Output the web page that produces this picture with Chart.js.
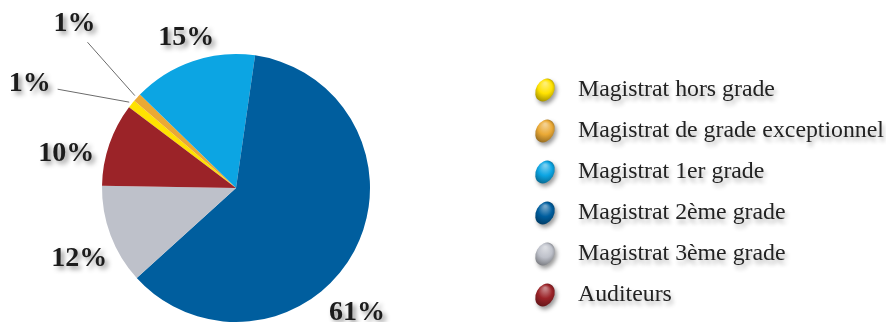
<!DOCTYPE html>
<html>
<head>
<meta charset="utf-8">
<script src="https://cdn.jsdelivr.net/npm/chart.js@4.4.1/dist/chart.umd.min.js"></script>
<style>
  html, body { margin: 0; padding: 0; background: #fff; overflow: hidden; }
  #wrap { position: relative; width: 886px; height: 340px; }
</style>
</head>
<body>
<div id="wrap"><canvas id="grades"></canvas></div>
<script>
const gradeLabels = ['Magistrat hors grade', 'Magistrat de grade exceptionnel', 'Magistrat 1er grade',
  'Magistrat 2ème grade', 'Magistrat 3ème grade', 'Auditeurs']
const gradeShares = [1, 1, 15, 61, 12, 10]
const gradeColors = ['#ffe200', '#eaa935', '#0ca5e3', '#005e9e', '#bec1ca', '#9b2328']

// percentage label spots: angle from top (deg, clockwise) and distance from the centre
const labelSpots = [
  {angle: 296.7, dist: 231, leader: [28, 5]},
  {angle: 315.4, dist: 230, leader: [13, 18]},
  {angle: 341.6, dist: 158},
  {angle: 135.9, dist: 174},
  {angle: 245.7, dist: 172},
  {angle: 281.3, dist: 173}
]

const mix = (hex, target, t) => {
  let c = [1, 3, 5].map(i => parseInt(hex.substr(i, 2), 16))
  c = c.map(v => Math.round(v + (target - v) * t))
  return `rgb(${c[0]},${c[1]},${c[2]})`
}

const pointAt = (cx, cy, angle, dist) => {
  let t = (angle - 90) * Math.PI / 180
  return [cx + dist * Math.cos(t), cy + dist * Math.sin(t)]
}

// percent labels + leader lines
const pctLabels = {
  id: 'pctLabels',
  afterDatasetsDraw(chart) {
    let ctx = chart.ctx
    let arcs = chart.getDatasetMeta(0).data
    let {x: cx, y: cy, outerRadius} = arcs[0].getProps(['x', 'y', 'outerRadius'], true)
    let total = gradeShares.reduce((a, b) => a + b, 0)
    ctx.save()
    labelSpots.forEach((spot, i) => {
      let [lx, ly] = pointAt(cx, cy, spot.angle, spot.dist)
      if (spot.leader) {
        let {startAngle, endAngle} = arcs[i].getProps(['startAngle', 'endAngle'], true)
        let mid = (startAngle + endAngle) / 2
        ctx.strokeStyle = '#6b6b6b'
        ctx.lineWidth = 1
        ctx.beginPath()
        ctx.moveTo(lx + spot.leader[0], ly + spot.leader[1])
        ctx.lineTo(cx + (outerRadius + 3) * Math.cos(mid), cy + (outerRadius + 3) * Math.sin(mid))
        ctx.stroke()
      }
      ctx.shadowColor = 'rgba(0,0,0,0.45)'
      ctx.shadowBlur = 5
      ctx.shadowOffsetX = 3
      ctx.shadowOffsetY = 3
      ctx.fillStyle = '#1c1c1c'
      ctx.font = 'bold 28px "Liberation Serif", serif'
      ctx.textAlign = 'center'
      ctx.textBaseline = 'middle'
      ctx.fillText(Math.round(gradeShares[i] / total * 100) + '%', lx, ly)
      ctx.shadowColor = 'transparent'
    })
    ctx.restore()
  }
}

// legend with glossy bean markers on the right
const beanLegend = {
  id: 'beanLegend',
  afterDraw(chart) {
    let ctx = chart.ctx
    let colors = chart.data.datasets[0].backgroundColor
    ctx.save()
    ctx.font = '20px "Liberation Serif", serif'
    let widest = Math.max(...chart.data.labels.map(l => ctx.measureText(l).width))
    let size = 20 * 306 / widest
    chart.data.labels.forEach((label, i) => {
      let y = 90 + i * 41
      // marker
      ctx.save()
      ctx.translate(545, y)
      ctx.rotate(0.5)
      let g = ctx.createRadialGradient(-3, -6, 1, 0, 0, 13)
      g.addColorStop(0, mix(colors[i], 255, 0.45))
      g.addColorStop(0.5, colors[i])
      g.addColorStop(1, mix(colors[i], 0, 0.4))
      ctx.shadowColor = 'rgba(0,0,0,0.4)'
      ctx.shadowBlur = 4
      ctx.shadowOffsetX = 2
      ctx.shadowOffsetY = 3
      ctx.fillStyle = g
      ctx.beginPath()
      ctx.ellipse(0, 0, 9, 12, 0, 0, Math.PI * 2)
      ctx.fill()
      ctx.restore()
      // text
      ctx.shadowColor = 'rgba(0,0,0,0.3)'
      ctx.shadowBlur = 4
      ctx.shadowOffsetX = 2
      ctx.shadowOffsetY = 4
      ctx.fillStyle = '#222'
      ctx.font = size.toFixed(1) + 'px "Liberation Serif", serif'
      ctx.textAlign = 'left'
      ctx.textBaseline = 'middle'
      ctx.fillText(label, 578, y)
      ctx.shadowColor = 'transparent'
    })
    ctx.restore()
  }
}

const createGradeChart = () => {
  const data = {
    labels: gradeLabels,
    datasets: [{
      data: gradeShares,
      backgroundColor: gradeColors,
      borderWidth: 0
    }]
  }
  const config = {
    type: 'pie',
    data: data,
    options: {
      responsive: true,
      maintainAspectRatio: false,
      animation: false,
      rotation: 307,
      layout: {padding: {left: 102, right: 516, top: 54, bottom: 18}},
      plugins: {
        legend: {display: false},
        tooltip: {enabled: false}
      }
    },
    plugins: [pctLabels, beanLegend]
  }
  new Chart(document.getElementById('grades'), config)
}

createGradeChart()
</script>
</body>
</html>
